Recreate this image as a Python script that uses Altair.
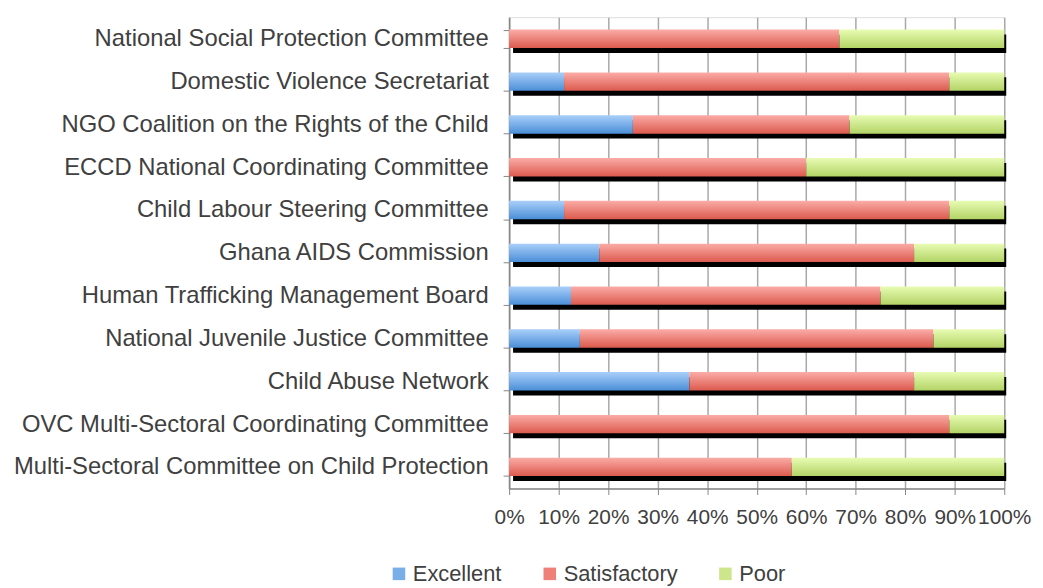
import altair as alt
import pandas as pd

orgs = [
    "National Social Protection Committee",
    "Domestic Violence Secretariat",
    "NGO Coalition on the Rights of the Child",
    "ECCD National Coordinating Committee",
    "Child Labour Steering Committee",
    "Ghana AIDS Commission",
    "Human Trafficking Management Board",
    "National Juvenile Justice Committee",
    "Child Abuse Network",
    "OVC Multi-Sectoral Coordinating Committee",
    "Multi-Sectoral Committee on Child Protection",
]
excellent = [0, 11.1, 25.0, 0, 11.1, 18.2, 12.5, 14.3, 36.4, 0, 0]
satisfactory = [66.7, 77.8, 43.75, 60.0, 77.8, 63.6, 62.5, 71.4, 45.4, 88.9, 57.1]
poor = [33.3, 11.1, 31.25, 40.0, 11.1, 18.2, 25.0, 14.3, 18.2, 11.1, 42.9]
categories = ["Excellent", "Satisfactory", "Poor"]
tick_values = [0, 10, 20, 30, 40, 50, 60, 70, 80, 90, 100]

rows = []
for i, o in enumerate(orgs):
    for k, (c, v) in enumerate(zip(categories, [excellent[i], satisfactory[i], poor[i]])):
        rows.append({"org": o, "cat": c, "value": v, "order": k})
df = pd.DataFrame(rows)

FONT = "Liberation Sans"
TXT = "#404040"


def grad(top, bottom):
    return alt.Gradient(
        gradient="linear",
        stops=[alt.GradientStop(color=top, offset=0), alt.GradientStop(color=bottom, offset=1)],
        x1=0, x2=0, y1=0, y2=1,
    )


grads = {
    "Excellent": grad("#a9cffa", "#4b8ed7"),
    "Satisfactory": grad("#fbaca7", "#dc5a4e"),
    "Poor": grad("#e8fcb3", "#b3d366"),
}
solid = ["#7aaee8", "#ee8079", "#cde68c"]

y_enc = alt.Y(
    "org:N",
    sort=orgs,
    title=None,
    scale=alt.Scale(paddingInner=0.57, paddingOuter=0.29),
    axis=alt.Axis(
        labelFont=FONT, labelFontSize=24, labelColor=TXT, labelPadding=15,
        labelLimit=600, tickBand="extent", tickColor="#868686", tickSize=6,
        domainColor="#868686", domainWidth=1.5, grid=False, labelAlign="right",
    ),
)
x_scale = alt.Scale(domain=[0, 100], nice=False)
x_axis = alt.Axis(
    values=tick_values, labelExpr="datum.value + '%'", labelFont=FONT,
    labelFontSize=21, labelColor=TXT, labelPadding=12, tickColor="#868686",
    tickSize=6, domainColor="#868686", domainWidth=1.5, gridColor="#a8a8a8",
    gridWidth=1.5, labelOverlap=False, labelFlush=False,
)

base = alt.Chart(df).transform_stack(
    stack="value", groupby=["org"], as_=["v0", "v1"],
    sort=[alt.SortField("order", order="ascending")],
)

shadow = (
    alt.Chart(df)
    .transform_aggregate(total="sum(value)", groupby=["org"])
    .transform_calculate(zero="0")
    .mark_bar(color="black", xOffset=4, x2Offset=2, yOffset=5, y2Offset=5)
    .encode(
        y=y_enc,
        x=alt.X("zero:Q", scale=x_scale, axis=x_axis, title=None),
        x2="total:Q",
    )
)

layers = [shadow]
for c in categories:
    layers.append(
        base.transform_filter(alt.datum.cat == c)
        .mark_bar(color=grads[c])
        .encode(y=y_enc, x=alt.X("v0:Q", scale=x_scale, title=None), x2="v1:Q")
    )

legend_layer = (
    alt.Chart(df)
    .mark_square(opacity=0)
    .encode(
        x=alt.X("value:Q", scale=x_scale, title=None),
        y=y_enc,
        color=alt.Color(
            "cat:N",
            scale=alt.Scale(domain=categories, range=solid),
            legend=alt.Legend(
                title=None, orient="none", direction="horizontal",
                legendX=-122, legendY=550, symbolType="square", symbolSize=160,
                symbolOpacity=1, symbolStrokeWidth=0, labelFont=FONT,
                labelFontSize=22, labelColor=TXT, columnPadding=37,
                labelOffset=3,
            ),
        ),
    )
)
layers.append(legend_layer)

chart = (
    alt.layer(*layers)
    .properties(
        width=499, height=475,
        autosize=alt.AutoSizeParams(type="none"),
        padding={"left": 505, "top": 7, "right": 31, "bottom": 98},
    )
    .configure_view(fill="#f0f0f0", stroke=None)
    .configure(background="white")
)

chart.save("out.html", embed_options={"renderer": "svg", "actions": False})
